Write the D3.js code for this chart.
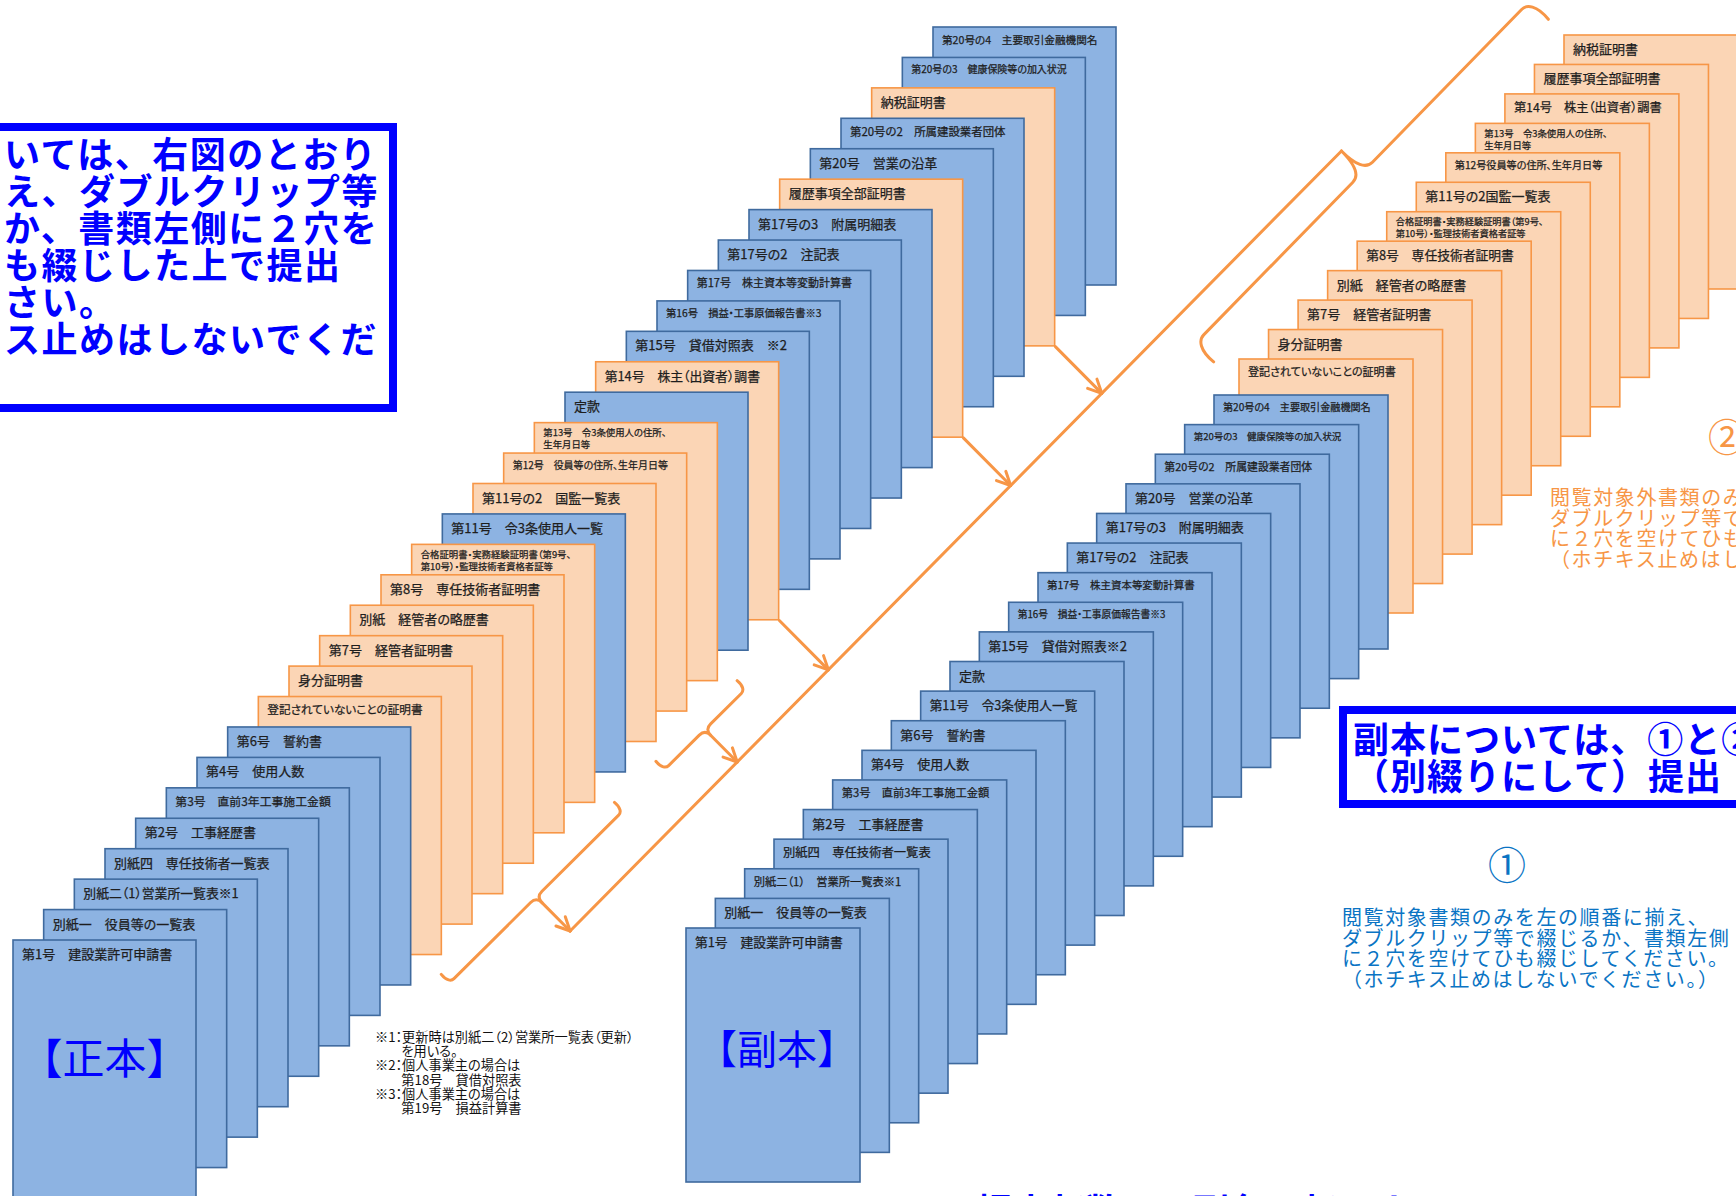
<!DOCTYPE html>
<html><head><meta charset="utf-8">
<script src="https://cdn.jsdelivr.net/npm/d3@7"></script>
<style>
html,body{margin:0;padding:0;background:#fff;overflow:hidden;}
svg{display:block;}
text{font-family:"Noto Sans CJK JP","Noto Sans",sans-serif;}
.lbl{font-feature-settings:"palt";fill:#1e1e1e;stroke:#1e1e1e;stroke-width:0.25;}
.fn{font-feature-settings:"palt";fill:#111;}
</style></head><body>
<svg id="c" width="1736" height="1196"></svg>
<script>
// ---------------- data ----------------
// 正本: all documents, front (index 0) to back
const seihonLabels = [
  "第1号　建設業許可申請書", "別紙一　役員等の一覧表", "別紙二（1）営業所一覧表※1", "別紙四　専任技術者一覧表",
  "第2号　工事経歴書", "第3号　直前3年工事施工金額", "第4号　使用人数", "第6号　誓約書",
  "登記されていないことの証明書", "身分証明書", "第7号　経管者証明書", "別紙　経管者の略歴書",
  "第8号　専任技術者証明書", "合格証明書・実務経験証明書（第9号、\n第10号）・監理技術者資格者証等",
  "第11号　令3条使用人一覧", "第11号の2　国監一覧表", "第12号　役員等の住所、生年月日等",
  "第13号　令3条使用人の住所、\n生年月日等", "定款", "第14号　株主（出資者）調書", "第15号　貸借対照表　※2",
  "第16号　損益・工事原価報告書※3", "第17号　株主資本等変動計算書", "第17号の2　注記表", "第17号の3　附属明細表",
  "履歴事項全部証明書", "第20号　営業の沿革", "第20号の2　所属建設業者団体", "納税証明書",
  "第20号の3　健康保険等の加入状況", "第20号の4　主要取引金融機関名"
];
// 1 = 閲覧対象 (①), 2 = 閲覧対象外 (②)
const seihonKinds = [1,1,1,1,1,1,1,1, 2,2,2,2,2,2, 1, 2,2,2, 1, 2, 1,1,1,1,1, 2, 1,1, 2, 1,1];

// 副本 ① 閲覧対象
const fuku1Labels = [
  "第1号　建設業許可申請書", "別紙一　役員等の一覧表", "別紙二（1）　営業所一覧表※1", "別紙四　専任技術者一覧表",
  "第2号　工事経歴書", "第3号　直前3年工事施工金額", "第4号　使用人数", "第6号　誓約書",
  "第11号　令3条使用人一覧", "定款", "第15号　貸借対照表※2", "第16号　損益・工事原価報告書※3",
  "第17号　株主資本等変動計算書", "第17号の2　注記表", "第17号の3　附属明細表", "第20号　営業の沿革",
  "第20号の2　所属建設業者団体", "第20号の3　健康保険等の加入状況", "第20号の4　主要取引金融機関名"
];
// 副本 ② 閲覧対象外
const fuku2Labels = [
  "登記されていないことの証明書", "身分証明書", "第7号　経管者証明書", "別紙　経管者の略歴書",
  "第8号　専任技術者証明書", "合格証明書・実務経験証明書（第9号、\n第10号）・監理技術者資格者証等",
  "第11号の2国監一覧表", "第12号役員等の住所、生年月日等", "第13号　令3条使用人の住所、\n生年月日等",
  "第14号　株主（出資者）調書", "履歴事項全部証明書", "納税証明書"
];

const seihonTitle = "【正本】";
const fukuhonTitle = "【副本】";
const leftNoteLines = ["いては、右図のとおり", "え、ダブルクリップ等", "か、書類左側に２穴を", "も綴じした上で提出", "さい。", "ス止めはしないでくだ"];
const fukuNoteLines = ["副本については、①と②を", "（別綴りにして）提出"];
const mark1 = "①", mark2 = "②";
const note1Lines = ["閲覧対象書類のみを左の順番に揃え、", "ダブルクリップ等で綴じるか、書類左側", "に２穴を空けてひも綴じしてください。", "（ホチキス止めはしないでください。）"];
const note2Lines = ["閲覧対象外書類のみを左の順番に揃え、", "ダブルクリップ等で綴じるか、書類左側", "に２穴を空けてひも綴じしてください。", "（ホチキス止めはしないでください。）"];
const footnoteLines = ["※1：更新時は別紙二（2）営業所一覧表（更新）", "　　を用いる。", "※2：個人事業主の場合は", "　　第18号　貸借対照表", "※3：個人事業主の場合は", "　　第19号　損益計算書"];
const bottomText = "提出部数は正副各１部です。";

// ---------------- styles / layout ----------------
const BLUE_FILL = "#8DB3E2", BLUE_STROKE = "#3F6A9E";
const ORG_FILL = "#FBD5B5", ORG_STROKE = "#F79646";
const LINE = "#F79646";
const kindFill = k => k === 1 ? BLUE_FILL : ORG_FILL;
const kindStroke = k => k === 1 ? BLUE_STROKE : ORG_STROKE;

const svg = d3.select("#c");

const S = { w: 183, h: 258 };
const F = { w: 174, h: 254 };
const sx = d3.scaleLinear().domain([0, seihonLabels.length - 1]).range([13, 933]);
const sy = d3.scaleLinear().domain([0, seihonLabels.length - 1]).range([940, 27]);
const ax = d3.scaleLinear().domain([0, fuku1Labels.length - 1]).range([686, 1214]);
const ay = d3.scaleLinear().domain([0, fuku1Labels.length - 1]).range([928, 395]);
const bx = d3.scaleLinear().domain([0, fuku2Labels.length - 1]).range([1239, 1564]);
const by = d3.scaleLinear().domain([0, fuku2Labels.length - 1]).range([359, 35]);

function drawStack(labels, kindOf, xs, ys, size) {
  const g = svg.append("g");
  const idx = d3.range(labels.length).reverse();
  const cards = g.selectAll("g.card").data(idx).join("g")
    .attr("class", "card")
    .attr("transform", i => `translate(${xs(i)},${ys(i)})`);
  cards.append("rect")
    .attr("width", size.w).attr("height", size.h)
    .attr("fill", i => kindFill(kindOf(i)))
    .attr("stroke", i => kindStroke(kindOf(i)))
    .attr("stroke-width", 1.6);
  const maxW = size.w * 0.85;
  cards.each(function (i) {
    const lines = labels[i].split("\n");
    const gg = d3.select(this);
    const ts = lines.map(l => gg.append("text").attr("class", "lbl").attr("x", 9).attr("font-size", 13).text(l));
    const wmax = d3.max(ts, t => t.node().getComputedTextLength());
    let fs = Math.min(13, 13 * maxW / wmax);
    if (lines.length > 1) fs = Math.min(fs, 9.4);
    ts.forEach((t, k) => {
      t.attr("font-size", fs);
      if (lines.length === 1) t.attr("y", 6 + fs);
      else t.attr("y", 4 + fs + k * fs * 1.28);
    });
  });
  return g;
}

// ② stack (behind), ① stack, 正本 stack
drawStack(fuku2Labels, () => 2, bx, by, F);
drawStack(fuku1Labels, () => 1, ax, ay, F);
drawStack(seihonLabels, i => seihonKinds[i], sx, sy, S);

// big titles
svg.append("text").attr("x", sx(0) + S.w / 2).attr("y", 1074).attr("text-anchor", "middle")
  .attr("font-size", 42).attr("fill", "#0000FF").text(seihonTitle);
svg.append("text").attr("x", ax(0) + F.w / 2 + 4).attr("y", 1064).attr("text-anchor", "middle")
  .attr("font-size", 40).attr("fill", "#0000FF").text(fukuhonTitle);

// ---------------- boxes and notes ----------------
svg.append("rect").attr("x", -20).attr("y", 127).attr("width", 413).attr("height", 281)
  .attr("fill", "#fff").attr("stroke", "#0000FF").attr("stroke-width", 8);
svg.append("g").selectAll("text").data(leftNoteLines).join("text")
  .attr("x", 4).attr("y", (d, i) => 168 + i * 37)
  .attr("font-size", 36).attr("font-weight", "bold").attr("letter-spacing", 1.5)
  .attr("fill", "#0000FF").text(d => d);

svg.append("rect").attr("x", 1343).attr("y", 710).attr("width", 420).attr("height", 94)
  .attr("fill", "#fff").attr("stroke", "#0000FF").attr("stroke-width", 8);
svg.append("g").selectAll("text").data(fukuNoteLines).join("text")
  .attr("x", 1353).attr("y", (d, i) => 753 + i * 37)
  .attr("font-size", 36).attr("font-weight", "bold").attr("letter-spacing", 1)
  .attr("fill", "#0000FF").text(d => d);

svg.append("text").attr("x", 1507).attr("y", 879).attr("text-anchor", "middle")
  .attr("font-size", 38).attr("fill", "#0A74C4").text(mark1);
svg.append("g").selectAll("text").data(note1Lines).join("text")
  .attr("x", 1342).attr("y", (d, i) => 925 + i * 20.7)
  .attr("font-size", 20).attr("letter-spacing", 1.6)
  .attr("fill", "#0A74C4").text(d => d);

svg.append("text").attr("x", 1708).attr("y", 451)
  .attr("font-size", 38).attr("fill", "#F79646").text(mark2);
svg.append("g").selectAll("text").data(note2Lines).join("text")
  .attr("x", 1550).attr("y", (d, i) => 505 + i * 20.7)
  .attr("font-size", 20).attr("letter-spacing", 1.6)
  .attr("fill", "#F79646").text(d => d);

svg.append("g").selectAll("text").data(footnoteLines).join("text")
  .attr("class", "fn").attr("x", 375).attr("y", (d, i) => 1042 + i * 14.2)
  .attr("font-size", 13.2).attr("xml:space", "preserve").text(d => d);

svg.append("text").attr("x", 977).attr("y", 1225)
  .attr("font-size", 36).attr("font-weight", "bold").attr("fill", "#0000FF").text(bottomText);

// ---------------- braces and arrows ----------------
const unit = v => { const l = Math.hypot(v[0], v[1]); return [v[0] / l, v[1] / l]; };
const P = (a, v, k) => [a[0] + v[0] * k, a[1] + v[1] * k];

function bracePath(A, B, n, d, r, hOut, hIn) {
  const u = unit([B[0] - A[0], B[1] - A[1]]);
  const L = Math.hypot(B[0] - A[0], B[1] - A[1]);
  const pt = (s, t) => [A[0] + u[0] * s + n[0] * t, A[1] + u[1] * s + n[1] * t];
  const p = d3.path();
  p.moveTo(...pt(-hOut, -hIn));
  p.bezierCurveTo(...pt(-hOut * 1.15, -hIn * 0.3), ...pt(-hOut * 0.6, 0), ...pt(0, 0));
  p.lineTo(...pt(L / 2 - r, 0));
  p.quadraticCurveTo(...pt(L / 2, 0), ...pt(L / 2, d));
  p.quadraticCurveTo(...pt(L / 2, 0), ...pt(L / 2 + r, 0));
  p.lineTo(...pt(L, 0));
  p.bezierCurveTo(...pt(L + hOut * 0.6, 0), ...pt(L + hOut * 1.15, -hIn * 0.3), ...pt(L + hOut, -hIn));
  return { d: p.toString(), tip: pt(L / 2, d) };
}

const lg = svg.append("g").attr("fill", "none").attr("stroke", LINE).attr("stroke-width", 3)
  .attr("stroke-linecap", "round").attr("stroke-linejoin", "round");

function arrow(a, b) {
  lg.append("line").attr("x1", a[0]).attr("y1", a[1]).attr("x2", b[0]).attr("y2", b[1]);
  const dir = unit([b[0] - a[0], b[1] - a[1]]);
  const ang = 26 * Math.PI / 180, len = 15;
  [-1, 1].forEach(sg => {
    const c = Math.cos(ang), s = Math.sin(ang) * sg;
    const w = [-(dir[0] * c - dir[1] * s), -(dir[0] * s + dir[1] * c)];
    lg.append("line").attr("x1", b[0]).attr("y1", b[1]).attr("x2", b[0] + w[0] * len).attr("y2", b[1] + w[1] * len);
  });
}

// geometry of the 正本 stack (bottom-right corners)
const corner = i => [sx(i) + S.w, sy(i) + S.h];
const nS = seihonLabels.length - 1;
const uS = unit([corner(nS)[0] - corner(0)[0], corner(nS)[1] - corner(0)[1]]);
const mS = [-uS[1], uS[0]]; // perpendicular, down-right

// big brace for ② stack (top-left corners)
const k0 = [bx(0), by(0)], kN = [bx(fuku2Labels.length - 1), by(fuku2Labels.length - 1)];
const u2 = unit([kN[0] - k0[0], kN[1] - k0[1]]);
const n2 = [u2[1], -u2[0]]; // up-left
const bigA = P(P(k0, n2, 42), u2, -8), bigB = P(P(kN, n2, 48), u2, -12);
const big = bracePath(bigA, bigB, n2, 30, 14, 12, 26);
lg.append("path").attr("d", big.d);

// runs of 閲覧対象外 documents in 正本
const runs = [];
seihonKinds.forEach((k, i) => {
  if (k !== 2) return;
  if (runs.length && runs[runs.length - 1][1] === i - 1) runs[runs.length - 1][1] = i;
  else runs.push([i, i]);
});

const starts = runs.map(([a, b]) => {
  if (a === b) return { from: P(corner(a), mS, 1) };
  const A = P(P(corner(a), mS, 26), uS, -8);
  const B = P(P(corner(b), mS, 26), uS, 8);
  const br = bracePath(A, B, mS, 8, 8, 6, 12);
  lg.append("path").attr("d", br.d);
  return { from: br.tip };
});
const lineStart = P(starts[0].from, mS, 40);
const lineEnd = big.tip;
lg.append("line").attr("x1", lineStart[0]).attr("y1", lineStart[1]).attr("x2", lineEnd[0]).attr("y2", lineEnd[1]);

function hit(p, dir, A, B) {
  const ex = B[0] - A[0], ey = B[1] - A[1];
  const den = dir[0] * ey - dir[1] * ex;
  const t = ((A[0] - p[0]) * ey - (A[1] - p[1]) * ex) / den;
  return P(p, dir, t);
}
starts.forEach((s, k) => {
  const end = k === 0 ? lineStart : hit(s.from, mS, lineStart, lineEnd);
  arrow(s.from, end);
});
</script>
</body></html>
